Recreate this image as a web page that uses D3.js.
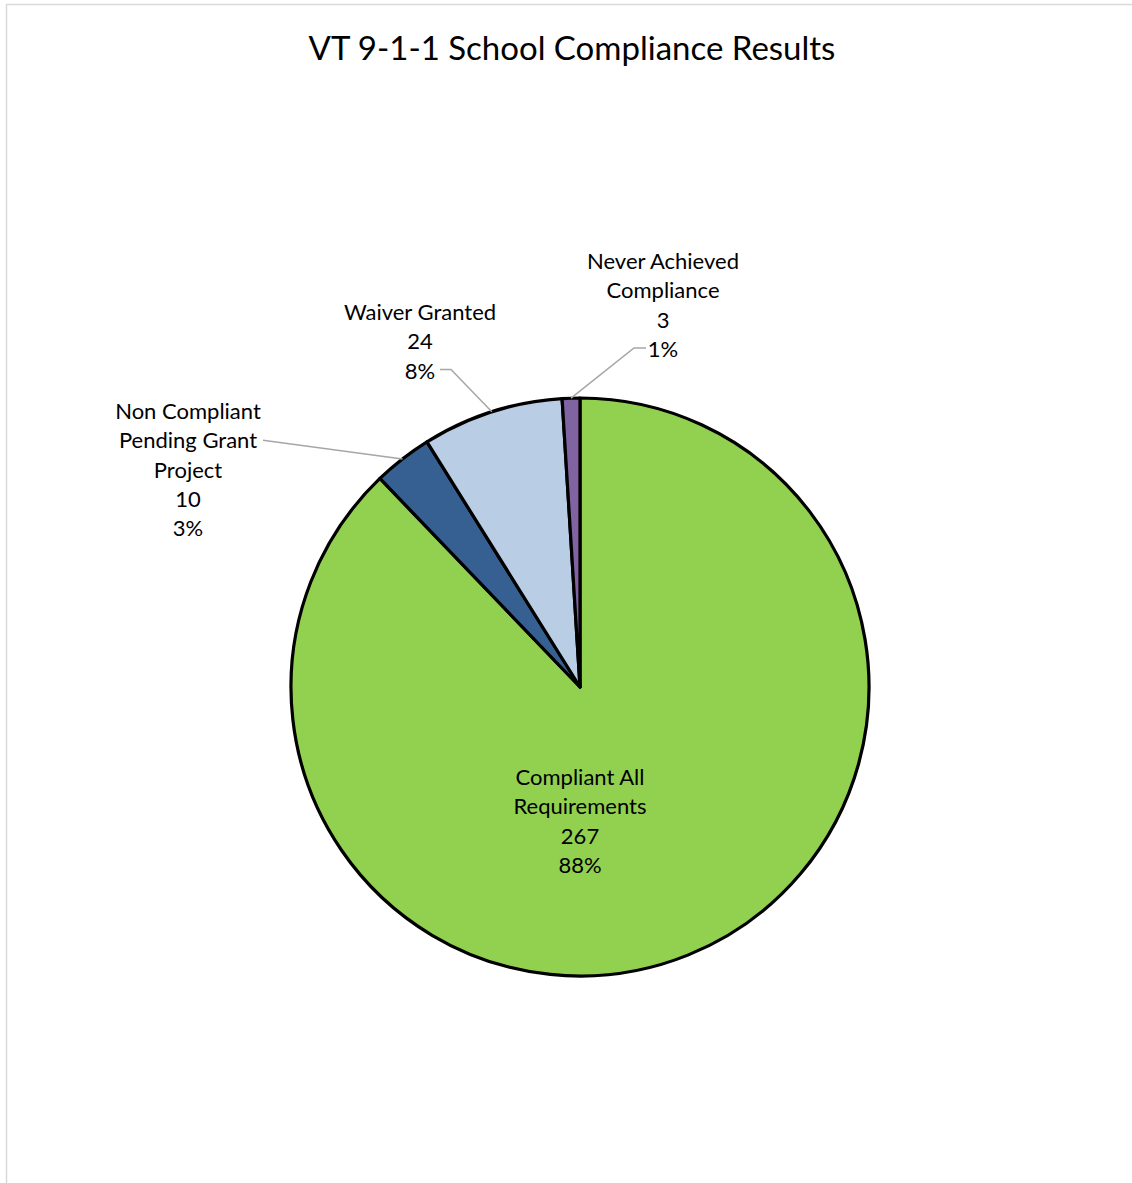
<!DOCTYPE html>
<html>
<head>
<meta charset="utf-8">
<script src="https://cdn.jsdelivr.net/npm/d3@7"></script>
<style>
  body { margin: 0; background: #fff; }
  svg { display: block; font-family: Lato, "Open Sans", sans-serif; }
</style>
</head>
<body>
<div id="chart"></div>
<script>
// Data
const categories = ["Compliant All Requirements", "Non Compliant Pending Grant Project", "Waiver Granted", "Never Achieved Compliance"];
const counts = [267, 10, 24, 3];
const percents = ["88%", "3%", "8%", "1%"];
const labelLines = [
    ["Compliant All", "Requirements"],
    ["Non Compliant", "Pending Grant", "Project"],
    ["Waiver Granted"],
    ["Never Achieved", "Compliance"]
];
const colors = ["#92d050", "#376092", "#b9cde5", "#8064a2"];

const width = 1132, height = 1183;
const cx = 580, cy = 687, radius = 289;
const lineHeight = 29.3;

// label placement relative to the pie centre (first-line baseline)
const labelLayout = [
    { x: 0, y: 98 },
    { x: -392, y: -268 },
    { x: -160, y: -367 },
    { x: 83, y: -418 }
];

const svg = d3.select("#chart").append("svg")
    .attr("width", width)
    .attr("height", height)
    .attr("viewBox", [0, 0, width, height]);

// chart frame
svg.append("path")
    .attr("d", `M6.5,${height}V4.5H${width}`)
    .attr("fill", "none")
    .attr("stroke", "#d9d9d9")
    .attr("stroke-width", 1.5);

svg.append("text")
    .attr("x", 572)
    .attr("y", 60)
    .attr("text-anchor", "middle")
    .attr("font-size", 33)
    .attr("fill", "#000")
    .text("VT 9-1-1 School Compliance Results");

const pie = d3.pie().sort(null).value(d => d);
const arcs = pie(counts);
const arc = d3.arc().innerRadius(0).outerRadius(radius);

const g = svg.append("g").attr("transform", `translate(${cx},${cy})`);

g.selectAll("path.slice")
    .data(arcs)
    .join("path")
        .attr("class", "slice")
        .attr("d", arc)
        .attr("fill", (d, i) => colors[i])
        .attr("stroke", "#000")
        .attr("stroke-width", 3.2)
        .attr("stroke-linejoin", "round");

// leader lines: from the slice's outer edge to the label
function edgePoint(d, r) {
    const a = (d.startAngle + d.endAngle) / 2;
    return [r * Math.sin(a), -r * Math.cos(a)];
}
const leaders = [
    null,
    () => [edgePoint(arcs[1], radius), [labelLayout[1].x + 75, labelLayout[1].y + lineHeight - 8]],
    () => [edgePoint(arcs[2], radius), [labelLayout[2].x + 31, labelLayout[2].y + 2 * lineHeight - 9], [labelLayout[2].x + 20, labelLayout[2].y + 2 * lineHeight - 9]],
    () => [edgePoint(arcs[3], radius), [labelLayout[3].x - 29, labelLayout[3].y + 3 * lineHeight - 9], [labelLayout[3].x - 17, labelLayout[3].y + 3 * lineHeight - 9]]
];
leaders.forEach(f => {
    if (!f) return;
    g.append("path")
        .attr("d", d3.line()(f()))
        .attr("fill", "none")
        .attr("stroke", "#a6a6a6")
        .attr("stroke-width", 1.5);
});

// data labels
const labels = g.selectAll("text.label")
    .data(arcs)
    .join("text")
        .attr("class", "label")
        .attr("text-anchor", "middle")
        .attr("font-size", 22)
        .attr("fill", "#000")
        .attr("transform", (d, i) => `translate(${labelLayout[i].x},${labelLayout[i].y})`);

labels.each(function (d, i) {
    const lines = labelLines[i].concat([String(counts[i]), percents[i]]);
    d3.select(this).selectAll("tspan")
        .data(lines)
        .join("tspan")
            .attr("x", 0)
            .attr("y", (t, j) => j * lineHeight)
            .text(t => t);
});
</script>
</body>
</html>
